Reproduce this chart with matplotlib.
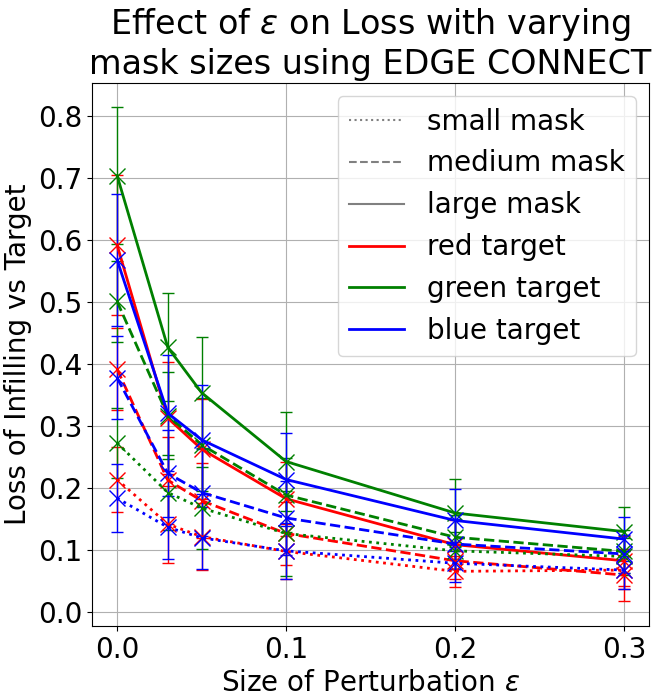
import matplotlib.pyplot as plt
from matplotlib.lines import Line2D
from matplotlib.ticker import MultipleLocator

plt.rcParams['font.size'] = 20

eps = [0.0, 0.03, 0.05, 0.1, 0.2, 0.3]

# mean loss, per target colour and mask size
red_small = [0.214, 0.142, 0.122, 0.098, 0.066, 0.068]
red_medium = [0.392, 0.213, 0.180, 0.127, 0.083, 0.060]
red_large = [0.592, 0.313, 0.263, 0.183, 0.109, 0.083]
green_small = [0.273, 0.193, 0.168, 0.127, 0.099, 0.090]
green_medium = [0.501, 0.317, 0.270, 0.189, 0.121, 0.098]
green_large = [0.704, 0.427, 0.354, 0.243, 0.160, 0.130]
blue_small = [0.184, 0.137, 0.120, 0.099, 0.079, 0.068]
blue_medium = [0.378, 0.224, 0.193, 0.152, 0.110, 0.094]
blue_large = [0.568, 0.321, 0.278, 0.214, 0.148, 0.118]

# standard deviations (error bars)
red_small_err = [0.053, 0.062, 0.054, 0.044, 0.025, 0.030]
red_medium_err = [0.066, 0.070, 0.060, 0.050, 0.030, 0.042]
red_large_err = [0.113, 0.090, 0.080, 0.060, 0.040, 0.040]
green_small_err = [0.057, 0.060, 0.066, 0.068, 0.030, 0.030]
green_medium_err = [0.066, 0.070, 0.075, 0.060, 0.035, 0.035]
green_large_err = [0.110, 0.087, 0.090, 0.080, 0.055, 0.039]
blue_small_err = [0.055, 0.051, 0.050, 0.045, 0.030, 0.030]
blue_medium_err = [0.067, 0.070, 0.070, 0.060, 0.040, 0.030]
blue_large_err = [0.107, 0.093, 0.088, 0.075, 0.050, 0.036]

series = [
    (red_small, red_small_err, 'red', ':'),
    (red_medium, red_medium_err, 'red', '--'),
    (red_large, red_large_err, 'red', '-'),
    (green_small, green_small_err, 'green', ':'),
    (green_medium, green_medium_err, 'green', '--'),
    (green_large, green_large_err, 'green', '-'),
    (blue_small, blue_small_err, 'blue', ':'),
    (blue_medium, blue_medium_err, 'blue', '--'),
    (blue_large, blue_large_err, 'blue', '-'),
]

fig, ax = plt.subplots(figsize=(6.6, 7), dpi=100)
fig.subplots_adjust(left=0.139, right=0.984, top=0.882, bottom=0.106)

for vals, errs, col, ls in series:
    ax.errorbar(eps, vals, yerr=errs, color=col, ls=ls, lw=2, marker='x',
                ms=12, mew=1, elinewidth=1, capsize=4)

handles = [
    Line2D([0], [0], color='gray', ls=':', lw=1.5),
    Line2D([0], [0], color='gray', ls='--', lw=1.5),
    Line2D([0], [0], color='gray', ls='-', lw=1.5),
    Line2D([0], [0], color='red', lw=2),
    Line2D([0], [0], color='green', lw=2),
    Line2D([0], [0], color='blue', lw=2),
]
labels = ['small mask', 'medium mask', 'large mask', 'red target',
          'green target', 'blue target']
ax.legend(handles, labels, loc='upper right')

ax.grid(True)
ax.set_xlabel(r'Size of Perturbation $\epsilon$')
ax.set_ylabel('Loss of Infilling vs Target')
ax.set_title('Effect of $\\epsilon$ on Loss with varying\nmask sizes using EDGE CONNECT',
             fontsize=24)
ax.set_xticks([0.0, 0.1, 0.2, 0.3])
ax.yaxis.set_major_locator(MultipleLocator(0.1))

plt.savefig('out.png')
